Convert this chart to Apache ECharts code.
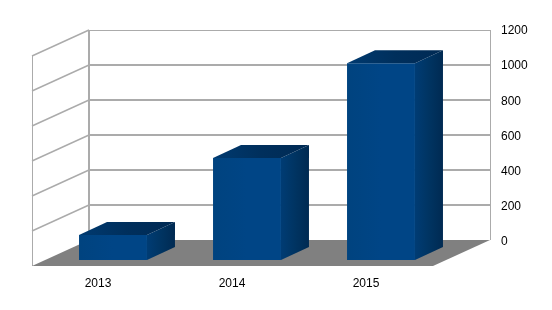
<!DOCTYPE html>
<html>
<head>
<meta charset="utf-8">
<style>html,body{margin:0;padding:0;background:#fff}#c{width:552px;height:310px}</style>
<script src="https://cdn.jsdelivr.net/npm/echarts@6/dist/echarts.min.js"></script>
</head>
<body>
<div id="c"></div>
<script>
var categories = ['2013', '2014', '2015'];
var values = [143, 583, 1125];
var yTicks = [0, 200, 400, 600, 800, 1000, 1200];

var DX = 57, DY = 26;            // depth of the floor
var NEAR_X = 15, NEAR_Y = 6;     // offset of a bar's front face from the front plane
var SIDE_X = 28, SIDE_Y = 13;    // depth of a bar
var BAR_W = 0.507;               // bar width as a fraction of the band
var GRID_COL = '#ababab', FLOOR_COL = '#808080';

function line(x1, y1, x2, y2, w) {
  return { type: 'line', shape: { x1: x1, y1: y1, x2: x2, y2: y2 },
    style: { stroke: GRID_COL, lineWidth: w, fill: null } };
}
function poly(pts, fill) {
  return { type: 'polygon', shape: { points: pts }, style: { fill: fill, stroke: null } };
}
function grad(x0, y0, x1, y1, a, b, c) {
  return new echarts.graphic.LinearGradient(x0, y0, x1, y1,
    [{ offset: 0, color: a }, { offset: 0.5, color: b }, { offset: 1, color: c }]);
}

function renderWalls(params, api) {
  var cs = params.coordSys, v = api.value(0);
  var y = api.coord([0, v])[1];
  var top = v === yTicks[yTicks.length - 1];
  var kids = [];
  if (v !== 0) {
    kids.push(line(cs.x, top ? y + 0.5 : y, cs.x + cs.width, top ? y + 0.5 : y, top ? 1 : 2));
    kids.push(line(cs.x - DX, y + DY, cs.x, y, 1.4));
  }
  if (top) {
    kids.push(line(cs.x, cs.y, cs.x, cs.y + cs.height, 2));
    kids.push(line(cs.x + cs.width + 0.5, cs.y, cs.x + cs.width + 0.5, cs.y + cs.height, 1));
    kids.push(line(cs.x - DX + 0.5, cs.y + DY, cs.x - DX + 0.5, cs.y + cs.height + DY, 1));
  }
  return { type: 'group', children: kids };
}

function renderFloor(params, api) {
  var cs = params.coordSys, b = cs.y + cs.height;
  return poly([[cs.x - DX, b + DY], [cs.x, b], [cs.x + cs.width, b], [cs.x + cs.width - DX, b + DY]], FLOOR_COL);
}

function renderBar(params, api) {
  var cat = api.value(0), val = api.value(1);
  var base = api.coord([cat, 0]), head = api.coord([cat, val]);
  var w = api.size([1, 0])[0] * BAR_W;
  var l = base[0] - w / 2 + NEAR_X, r = base[0] + w / 2 + NEAR_X;
  var yb = base[1] - NEAR_Y, yt = head[1] - NEAR_Y;
  var sx = SIDE_X, sy = SIDE_Y;
  return { type: 'group', children: [
    poly([[l, yb], [r, yb], [r, yt], [l, yt]], grad(0, 0, 1, 0, '#00437f', '#004586', '#004586')),
    poly([[r, yb], [r + sx, yb - sy], [r + sx, yt - sy], [r, yt]], grad(0, 0, 1, 0, '#003c74', '#003462', '#002a52')),
    poly([[l, yt], [r, yt], [r + sx, yt - sy], [l + sx, yt - sy]], grad(0, 1, 1, 0, '#003a70', '#002f5c', '#002a54'))
  ] };
}

var yMin = yTicks[0], yMax = yTicks[yTicks.length - 1];
var chart = echarts.init(document.getElementById('c'), null, { renderer: 'canvas' });
chart.setOption({
  animation: false,
  backgroundColor: '#ffffff',
  textStyle: { fontFamily: 'Liberation Sans' },
  grid: [
    { left: 89, right: 62, top: 30, bottom: 70 },
    { left: 31, right: 119, top: 56, bottom: 44 },
    { left: 89, right: 62, top: 31, bottom: 68 }
  ],
  xAxis: [
    { type: 'category', gridIndex: 0, data: categories, show: false },
    { type: 'category', gridIndex: 1, data: categories,
      axisLine: { show: false }, axisTick: { show: false },
      axisLabel: { color: '#000', fontSize: 12, margin: 12, fontFamily: 'Liberation Sans' } },
    { type: 'category', gridIndex: 2, data: categories, show: false }
  ],
  yAxis: [
    { type: 'value', gridIndex: 0, min: yMin, max: yMax, interval: 200, show: false, splitLine: { show: false } },
    { type: 'value', gridIndex: 1, min: yMin, max: yMax, interval: 200, show: false, splitLine: { show: false } },
    { type: 'value', gridIndex: 2, position: 'right', min: yMin, max: yMax, interval: 200,
      axisLine: { show: false }, axisTick: { show: false }, splitLine: { show: false },
      axisLabel: { color: '#000', fontSize: 12, margin: 11,
        fontFamily: 'Liberation Sans', formatter: function (v) { return String(v); } } }
  ],
  series: [
    { type: 'custom', xAxisIndex: 0, yAxisIndex: 0, z: 1, silent: true, clip: false,
      renderItem: renderWalls, encode: { y: 0 },
      data: yTicks.map(function (t) { return [t]; }) },
    { type: 'custom', xAxisIndex: 0, yAxisIndex: 0, z: 2, silent: true, clip: false,
      renderItem: renderFloor, data: [[0]] },
    { type: 'custom', xAxisIndex: 1, yAxisIndex: 1, z: 3, clip: false,
      renderItem: renderBar, encode: { x: 0, y: 1 },
      data: categories.map(function (c, i) { return [i, values[i]]; }) }
  ]
});
</script>
</body>
</html>
